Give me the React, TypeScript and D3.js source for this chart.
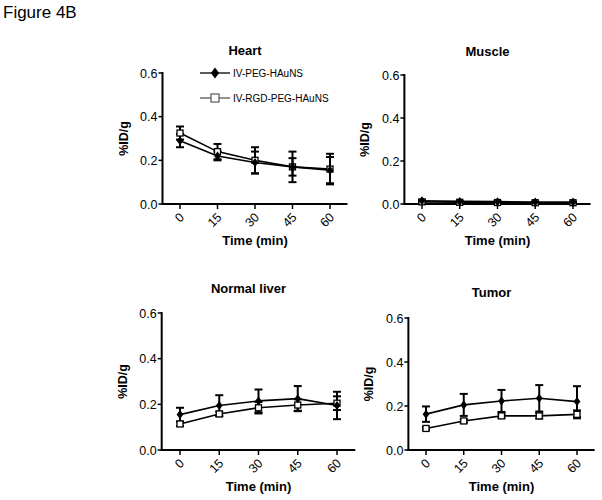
import React from "react";
import * as d3 from "d3";

const times = [0, 15, 30, 45, 60];
const yTicks = [0, 0.2, 0.4, 0.6];
const seriesNames = ["IV-PEG-HAuNS", "IV-RGD-PEG-HAuNS"];
const panelTitles = ["Heart", "Muscle", "Normal liver", "Tumor"];

// IV-PEG-HAuNS (filled diamond)
const heartPeg = [0.29, 0.22, 0.19, 0.17, 0.155];
const heartPegErr = [0.03, 0.02, 0.05, 0.07, 0.06];
const musclePeg = [0.015, 0.012, 0.011, 0.009, 0.009];
const musclePegErr = [0.003, 0.002, 0.002, 0.002, 0.002];
const liverPeg = [0.155, 0.195, 0.215, 0.225, 0.195];
const liverPegErr = [0.03, 0.045, 0.05, 0.055, 0.06];
const tumorPeg = [0.163, 0.205, 0.223, 0.235, 0.22];
const tumorPegErr = [0.035, 0.05, 0.05, 0.06, 0.07];

// IV-RGD-PEG-HAuNS (open square)
const heartRgd = [0.325, 0.24, 0.2, 0.17, 0.16];
const heartRgdErr = [0.03, 0.035, 0.06, 0.04, 0.07];
const muscleRgd = [0.01, 0.008, 0.007, 0.006, 0.006];
const muscleRgdErr = [0.002, 0.002, 0.002, 0.002, 0.002];
const liverRgd = [0.114, 0.158, 0.185, 0.197, 0.205];
const liverRgdErr = [0.008, 0.01, 0.025, 0.025, 0.03];
const tumorRgd = [0.098, 0.132, 0.155, 0.155, 0.162];
const tumorRgdErr = [0.006, 0.008, 0.01, 0.012, 0.018];

const panels = [
  { title: panelTitles[0], peg: heartPeg, pegErr: heartPegErr, rgd: heartRgd, rgdErr: heartRgdErr, x0: 180, x60: 330, yTop: 73, yBot: 204, titleY: 55, xLabY: 245, legend: true },
  { title: panelTitles[1], peg: musclePeg, pegErr: musclePegErr, rgd: muscleRgd, rgdErr: muscleRgdErr, x0: 422, x60: 573, yTop: 75, yBot: 204, titleY: 56, xLabY: 245, legend: false },
  { title: panelTitles[2], peg: liverPeg, pegErr: liverPegErr, rgd: liverRgd, rgdErr: liverRgdErr, x0: 180, x60: 337, yTop: 313, yBot: 450, titleY: 293, xLabY: 491, legend: false },
  { title: panelTitles[3], peg: tumorPeg, pegErr: tumorPegErr, rgd: tumorRgd, rgdErr: tumorRgdErr, x0: 426, x60: 577, yTop: 318, yBot: 450, titleY: 297, xLabY: 491, legend: false },
];

const FONT = "Arial, 'Liberation Sans', Helvetica, sans-serif";

function Diamond({ x, y, s = 4.5 }: { x: number; y: number; s?: number }) {
  return <path d={`M${x},${y - s}L${x + s * 0.75},${y}L${x},${y + s}L${x - s * 0.75},${y}Z`} fill="#000" />;
}
function Square({ x, y, s = 3 }: { x: number; y: number; s?: number }) {
  return <rect x={x - s} y={y - s} width={s * 2} height={s * 2} fill="#fff" stroke="#000" strokeWidth={1.3} />;
}

function Panel({ p }: { p: typeof panels[number] }) {
  const x = d3.scaleLinear().domain([0, 60]).range([p.x0, p.x60]);
  const y = d3.scaleLinear().domain([0, 0.6]).range([p.yBot, p.yTop]);
  const axX = x(-7);
  const axEnd = x(67);
  const line = d3.line<number>().x((_, i) => x(times[i])).y((v) => y(v));
  const midX = (x(0) + x(60)) / 2;
  const midY = (y(0) + y(0.6)) / 2;
  const errBars = (vals: number[], errs: number[], key: string) =>
    vals.map((v, i) => {
      const cx = x(times[i]);
      const hi = y(v + errs[i]);
      const lo = y(Math.max(0, v - errs[i]));
      return (
        <g key={key + i} stroke="#000" strokeWidth={2}>
          <line x1={cx} x2={cx} y1={hi} y2={lo} />
          <line x1={cx - 4} x2={cx + 4} y1={hi} y2={hi} />
          <line x1={cx - 4} x2={cx + 4} y1={lo} y2={lo} />
        </g>
      );
    });
  return (
    <g fontFamily={FONT}>
      <text x={midX - 10} y={p.titleY} textAnchor="middle" fontSize={13} fontWeight="bold">{p.title}</text>
      {/* axes */}
      <line x1={axX} x2={axX} y1={y(0.6) - 1} y2={y(0) + 1} stroke="#000" strokeWidth={2} />
      <line x1={axX - 1} x2={axEnd} y1={y(0)} y2={y(0)} stroke="#000" strokeWidth={2} />
      {yTicks.map((t) => (
        <g key={"yt" + t}>
          <line x1={axX - 4} x2={axX} y1={y(t)} y2={y(t)} stroke="#000" strokeWidth={1.5} />
          <text x={axX - 5} y={y(t) + 4.5} textAnchor="end" fontSize={12.5}>{t.toFixed(1)}</text>
        </g>
      ))}
      {times.map((t) => (
        <g key={"xt" + t}>
          <line x1={x(t)} x2={x(t)} y1={y(0)} y2={y(0) + 5} stroke="#000" strokeWidth={1.5} />
          <text transform={`translate(${x(t) + 5},${y(0) + 14}) rotate(-45)`} textAnchor="end" fontSize={12.5}>{t}</text>
        </g>
      ))}
      <text x={midX} y={p.xLabY} textAnchor="middle" fontSize={13} fontWeight="bold">Time (min)</text>
      <text transform={`translate(${axX - 35},${midY}) rotate(-90)`} textAnchor="middle" fontSize={12.5} fontWeight="bold">%ID/g</text>
      {/* series */}
      {errBars(p.rgd, p.rgdErr, "re")}
      {errBars(p.peg, p.pegErr, "pe")}
      <path d={line(p.rgd) || ""} fill="none" stroke="#000" strokeWidth={1.6} />
      <path d={line(p.peg) || ""} fill="none" stroke="#000" strokeWidth={1.6} />
      {p.rgd.map((v, i) => <Square key={"s" + i} x={x(times[i])} y={y(v)} />)}
      {p.peg.map((v, i) => <Diamond key={"d" + i} x={x(times[i])} y={y(v)} />)}
      {p.legend && (
        <g>
          <line x1={200} x2={230} y1={73} y2={73} stroke="#000" strokeWidth={1.3} />
          <Diamond x={215} y={73} s={5.5} />
          <text x={233} y={76.5} fontSize={10}>{seriesNames[0]}</text>
          <line x1={200} x2={230} y1={98} y2={98} stroke="#555" strokeWidth={1.3} />
          <rect x={211} y={94} width={8} height={8} fill="#fff" stroke="#555" strokeWidth={1.2} />
          <text x={233} y={101.5} fontSize={10}>{seriesNames[1]}</text>
        </g>
      )}
    </g>
  );
}

export default function App() {
  return (
    <svg width={602} height={500} style={{ position: "absolute", left: 0, top: 0, background: "#fff" }}>
      <rect width={602} height={500} fill="#fff" />
      <text x={3} y={18} fontFamily={FONT} fontSize={17}>Figure 4B</text>
      {panels.map((p) => <Panel key={p.title} p={p} />)}
    </svg>
  );
}
